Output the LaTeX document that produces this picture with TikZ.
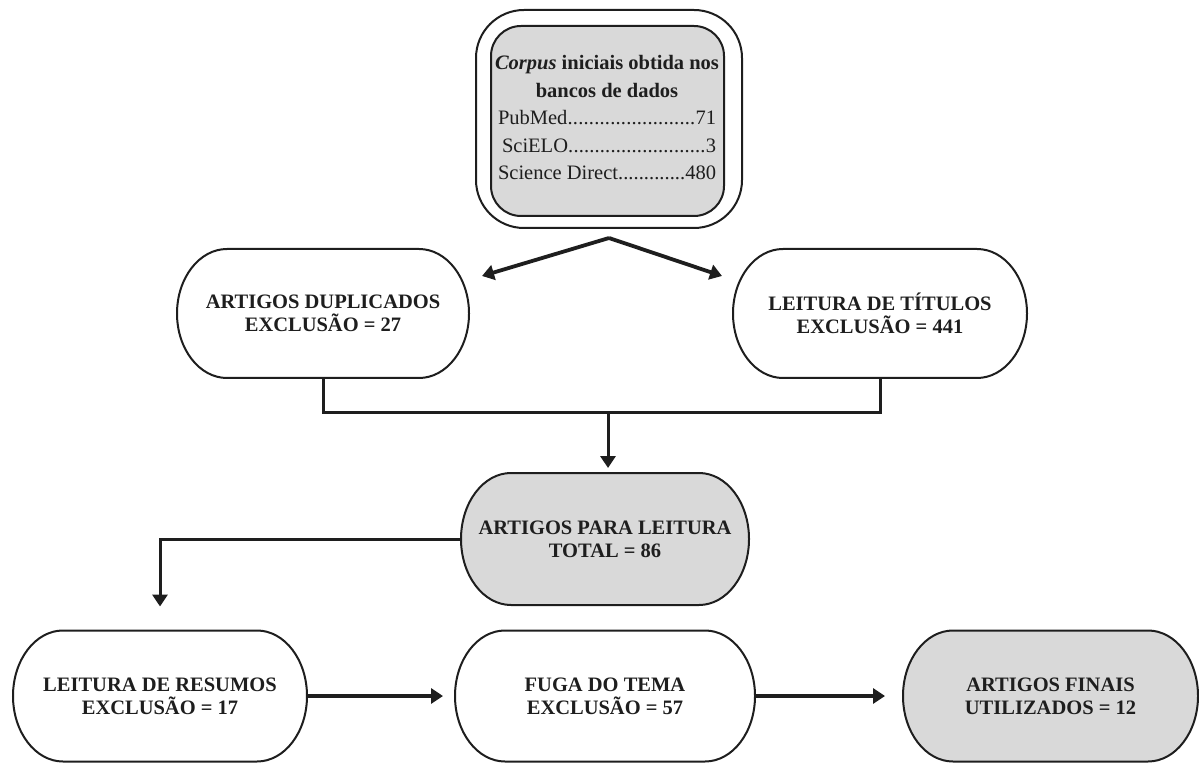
\documentclass[tikz,border=0pt]{standalone}
\usepackage{fontspec}
\setmainfont{Liberation Serif}
\usetikzlibrary{arrows.meta,calc}
\definecolor{boxgray}{RGB}{217,217,217}
\definecolor{ink}{RGB}{30,30,30}
\newcommand\leaderline[2]{\makebox[218pt]{#1\xleaders\hbox{.}\hfill#2}}
\newcommand\capsule[8]{%
  \draw[boxline, fill=#7] ({#2-#4/2+#6},{#3+#5/2}) -- ({#2+#4/2-#6},{#3+#5/2})
    arc[start angle=90, end angle=-90, x radius=#6pt, y radius={#5*0.5pt}]
    -- ({#2-#4/2+#6},{#3-#5/2})
    arc[start angle=270, end angle=90, x radius=#6pt, y radius={#5*0.5pt}] -- cycle;
  \node[boxnode, minimum width=#4pt, minimum height=#5pt] (#1) at (#2,#3) {#8};
}
\tikzset{
  boxline/.style={draw=ink, line width=2pt},
  boxnode/.style={inner sep=0pt, outer sep=0pt, align=center, text=ink,
    font=\bfseries\fontsize{20.5}{23}\selectfont},
  conn/.style={draw=ink, line width=3pt, -{Triangle[length=12pt,width=15pt]}},
  thickconn/.style={conn, line width=3.8pt},
  plain/.style={draw=ink, line width=3pt},
}
\begin{document}
\begin{tikzpicture}[x=1pt,y=1pt]
\useasboundingbox (0,0) rectangle (1199,764);
% top box
\node[boxline, fill=white, rounded corners=48pt, minimum width=266pt, minimum height=218pt, inner sep=0pt] (corpus) at (609,645) {};
\node[boxline, fill=boxgray, rounded corners=30pt, minimum width=233pt, minimum height=190pt, inner sep=0pt] (corpusin) at (607.5,643) {};
\node[inner sep=0pt, align=center, text=ink, font=\fontsize{20.5}{27.5}\selectfont] (corpustext) at (607,646)
  {\textbf{\textit{Corpus} iniciais obtida nos}\\
   \textbf{bancos de dados}\\
   \leaderline{PubMed}{71}\\
   \leaderline{\hspace*{4pt}SciELO}{3}\\
   \leaderline{Science Direct}{480}};
% capsules
\capsule{dup}{323}{450.5}{292}{129}{50}{white}{ARTIGOS DUPLICADOS\\EXCLUSÃO = 27}
\capsule{tit}{880}{450.5}{294}{129}{50}{white}{LEITURA DE TÍTULOS\\EXCLUSÃO = 441}
\capsule{para}{605}{225}{288}{132}{50}{boxgray}{ARTIGOS PARA LEITURA\\TOTAL = 86}
\capsule{res}{160}{68}{294}{131}{50}{white}{LEITURA DE RESUMOS\\EXCLUSÃO = 17}
\capsule{fuga}{605}{68}{300}{131}{50}{white}{FUGA DO TEMA\\EXCLUSÃO = 57}
\capsule{fin}{1050.5}{68}{295}{131}{50}{boxgray}{ARTIGOS FINAIS\\UTILIZADOS = 12}
% connectors
\coordinate (apex) at ([yshift=-9pt]corpus.south);
\coordinate (tipL) at (482,488);
\coordinate (tipR) at (722,488);
\draw[thickconn] (apex) -- (tipL);
\draw[thickconn] (apex) -- (tipR);
\coordinate (join) at (608,351);
\draw[plain] (dup.south) -- ++(0,-35) -| (tit.south);
\draw[conn, shorten >=5pt] (join) -- (join |- para.north);
\draw[conn, shorten >=24pt] (para.west) -| (res.north);
\draw[thickconn, shorten >=12pt] (res.east) -- (fuga.west);
\draw[thickconn, shorten >=18pt] (fuga.east) -- (fin.west);
\end{tikzpicture}
\end{document}
